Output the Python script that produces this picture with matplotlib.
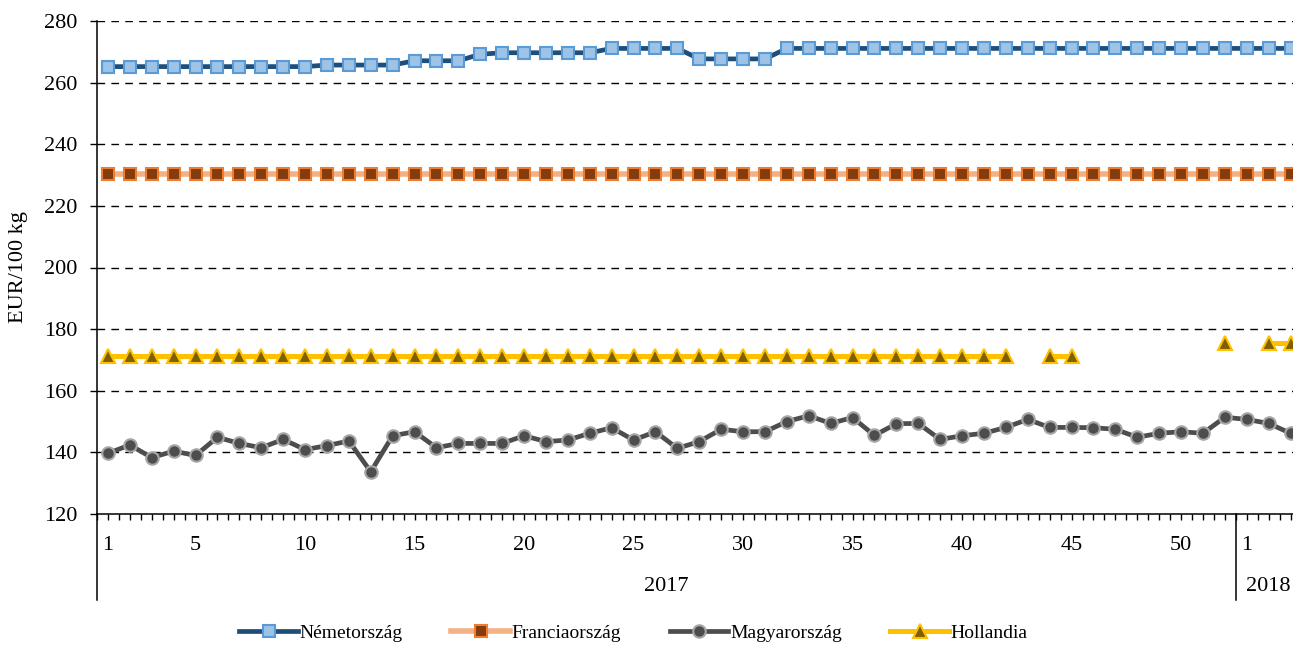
import numpy as np
import matplotlib
matplotlib.use("Agg")
import matplotlib.pyplot as plt
import matplotlib.transforms as mtransforms

plt.rcParams['font.family'] = ['Liberation Serif', 'DejaVu Serif']
plt.rcParams['font.size'] = 16

# weeks: 2017 w1..w52, then 2018 w1..w3
weeks_2017 = list(range(1, 53))
weeks_2018 = [1, 2, 3]
week_labels_shown = {1: "1", 5: "5", 10: "10", 15: "15", 20: "20", 25: "25",
                     30: "30", 35: "35", 40: "40", 45: "45", 50: "50", 53: "1"}
years = ["2017", "2018"]

nemet = ([265.2] * 10 + [265.7] * 4 + [267.1] * 3 + [269.2] + [269.7] * 5
         + [271.1] * 4 + [267.7] * 4 + [271.1] * 21 + [271.1] * 3)
francia = [230.3] * 55
magyar = [139.7, 142.4, 138.3, 140.4, 139.0, 144.9, 142.9, 141.5, 144.2, 140.9,
          142.2, 143.7, 133.7, 145.4, 146.7, 141.5, 142.9, 142.9, 142.9, 145.4,
          143.5, 144.0, 146.2, 148.0, 144.0, 146.7, 141.3, 143.5, 147.5, 146.7,
          146.7, 150.0, 151.9, 149.4, 151.3, 145.5, 149.3, 149.4, 144.2, 145.4,
          146.2, 148.1, 150.7, 148.1, 148.1, 148.0, 147.5, 144.9, 146.2, 146.7,
          146.2, 151.4,
          150.7, 149.4, 146.2]
nan = np.nan
holland = ([171.3] * 42 + [nan] + [171.3] * 2 + [nan] * 6 + [175.6]
           + [nan, 175.6, 175.6])

series_names = ["Németország", "Franciaország", "Magyarország", "Hollandia"]

x = np.arange(1, len(weeks_2017) + len(weeks_2018) + 1)

fig = plt.figure(figsize=(12.93, 6.48), dpi=100)
ax = fig.add_axes([97 / 1293, 134 / 648, 1204.5 / 1293, 493 / 648])

ax.plot(x, nemet, color="#1F4E79", lw=3.4, marker="s", ms=9,
        mfc="#9DC3E6", mec="#5B9BD5", mew=1.5, label=series_names[0])
ax.plot(x, francia, color="#F4B183", lw=4.0, marker="s", ms=9,
        mfc="#843C0C", mec="#ED7D31", mew=1.5, label=series_names[1])
ax.plot(x, magyar, color="#4D4D4D", lw=3.4, marker="o", ms=9,
        mfc="#4D4D4D", mec="#A6A6A6", mew=1.5, label=series_names[2])
ax.plot(x, holland, color="#FFC000", lw=3.6, marker="^", ms=9.5,
        mfc="#7F6000", mec="#FFC000", mew=1.5, label=series_names[3])

ax.set_ylim(120, 280)
ax.set_yticks(np.arange(120, 281, 20))
ax.set_xlim(0.5, len(x) + 0.5)

# ticks every half week, labels only on some
tpos = np.arange(0.5, len(x) + 0.51, 0.5)
tlab = [week_labels_shown.get(int(p), "") if float(p).is_integer() else "" for p in tpos]
ax.set_xticks(tpos)
ax.set_xticklabels(tlab)
ax.tick_params(axis="x", direction="out", length=4.5, width=1.0, pad=11)
ax.tick_params(axis="y", direction="out", length=5, width=1.0, pad=9)

for s in ["top", "right"]:
    ax.spines[s].set_visible(False)
for s in ["left", "bottom"]:
    ax.spines[s].set_linewidth(1.1)

for yv in range(140, 281, 20):
    ax.axhline(yv, color="black", lw=1.0, ls=(0, (5.5, 4.5)), zorder=0)

# year separators and labels under the axis
tr = mtransforms.blended_transform_factory(ax.transData, ax.transAxes)
for xv in [0.5, 52.5]:
    ax.plot([xv, xv], [0, -0.175], color="black", lw=1.1, transform=tr, clip_on=False)
ax.text(26.5, -0.148, years[0], transform=tr, ha="center", va="center")
ax.text(54.0, -0.148, years[1], transform=tr, ha="center", va="center")

ax.set_ylabel("EUR/100 kg")
ax.yaxis.set_label_coords(-0.057, 0.5)

fig.legend(loc="lower center", bbox_to_anchor=(0.49, -0.018), ncol=4, frameon=False,
           fontsize=14, handlelength=3.0, handletextpad=0.1, columnspacing=2.5)

fig.savefig("out.png", dpi=100)
